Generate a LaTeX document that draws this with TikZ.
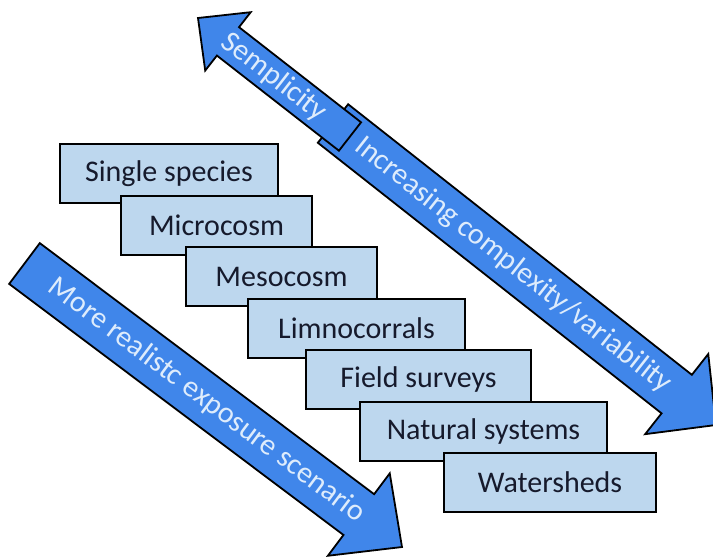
\documentclass[tikz,border=0pt]{standalone}
\usepackage{fontspec}
\setmainfont{Carlito}
\usetikzlibrary{calc}
\definecolor{arrowblue}{RGB}{64,134,234}
\definecolor{arrowtext}{RGB}{222,236,252}
\definecolor{boxblue}{RGB}{189,215,238}
\definecolor{boxtext}{RGB}{22,26,44}
\tikzset{
  levelbox/.style={draw=black, line width=2pt, fill=boxblue, text=boxtext,
    inner sep=0pt, anchor=north west, minimum height=59pt,
    font=\fontsize{30}{36}\selectfont},
  blockarrowstyle/.style={draw=black, line width=1.8pt, fill=arrowblue, line join=miter},
  arrowlabel/.style={text=arrowtext, sloped, inner sep=0pt,
    font=\fontsize{30}{36}\selectfont}
}
% #1 start, #2 tip, #3 half shaft, #4 half head, #5 head length, #6 name
\newcommand{\blockarrowdraw}[6]{%
  \coordinate (#6-B) at ($(#2)!#5!(#1)$);
  \draw[blockarrowstyle] ($(#1)!#3!90:(#2)$) -- ($(#6-B)!#3!-90:(#1)$)
    -- ($(#6-B)!#4!-90:(#1)$) -- (#2) -- ($(#6-B)!#4!90:(#1)$)
    -- ($(#6-B)!#3!90:(#1)$) -- ($(#1)!#3!-90:(#2)$) -- cycle;
}
\begin{document}
\begin{tikzpicture}[x=1pt,y=-1pt]
\useasboundingbox (0,0) rectangle (713,558);
\fill[white] (0,0) rectangle (713,558);

% arrows
\coordinate (incS) at (333,123.5);
\coordinate (incT) at (716,425);
\blockarrowdraw{incS}{incT}{24.5pt}{51pt}{50pt}{inc}
\path (incS) -- (incT) node[arrowlabel, pos=0.47] (incL) {Increasing complexity/variability};

\coordinate (simS) at (350,136.5);
\coordinate (simT) at (198,18);
\blockarrowdraw{simS}{simT}{18pt}{37pt}{38pt}{sim}
\path (simT) -- (simS) node[arrowlabel, pos=0.5] (simL) {Semplicity};

\coordinate (realS) at (24.5,263.5);
\coordinate (realT) at (402,547);
\blockarrowdraw{realS}{realT}{25.5pt}{51.5pt}{54pt}{real}
\path (realS) -- (realT) node[arrowlabel, pos=0.483] (realL) {More realistc exposure scenario};

% boxes
\node[levelbox, minimum width=218pt] (b1) at (59,143) {Single species};
\node[levelbox, minimum width=191pt] (b2) at (120,194.5) {Microcosm};
\node[levelbox, minimum width=191pt] (b3) at (185,246) {Mesocosm};
\node[levelbox, minimum width=217pt] (b4) at (247,297.5) {Limnocorrals};
\node[levelbox, minimum width=225pt] (b5) at (305,349) {Field surveys};
\node[levelbox, minimum width=247pt] (b6) at (359,400.5) {Natural systems};
\node[levelbox, minimum width=212pt] (b7) at (443,452) {Watersheds};
\end{tikzpicture}
\end{document}
